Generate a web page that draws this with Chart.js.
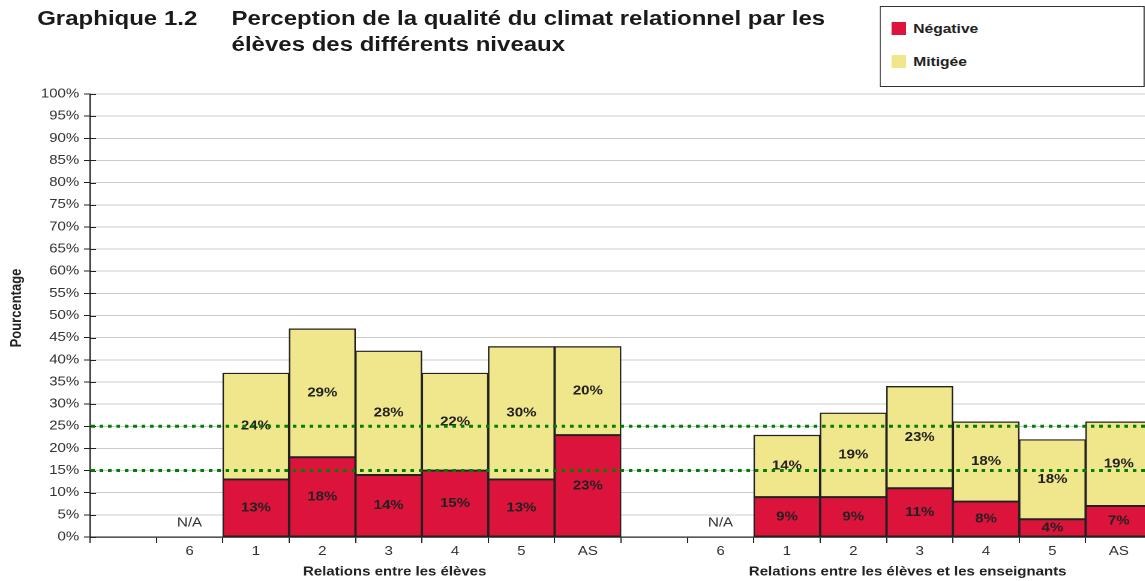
<!DOCTYPE html>
<html lang="fr">
<head>
<meta charset="utf-8">
<title>Graphique 1.2</title>
<script src="https://cdn.jsdelivr.net/npm/chart.js@4/dist/chart.umd.min.js"></script>
<style>
  html, body { margin: 0; padding: 0; background: #fff; overflow: hidden; }
  /* la source est étirée horizontalement : on dessine à 970px puis on étire */
  #page {
    position: relative; width: 970px; height: 581px;
    transform: scaleX(1.2); transform-origin: 0 0;
    font-family: "Liberation Sans", Arial, sans-serif; color: #222;
  }
  #page canvas { position: absolute; left: 0; top: 0; }
  .titre { position: absolute; top: 5px; font-weight: bold; font-size: 20px; line-height: 26px; white-space: nowrap; color: #1a1a1a; }
  #legende {
    position: absolute; left: 733px; top: 6px; width: 219px; height: 79px;
    border: 1px solid #333; background: #fff;
  }
  .item { position: absolute; left: 9px; height: 16px; font-weight: bold; font-size: 13px; line-height: 16px; }
  .item span.carre { position: absolute; left: 0; top: 1px; width: 12px; height: 13px; }
  .item span.texte { position: absolute; left: 18px; top: 0; white-space: nowrap; }
</style>
</head>
<body>
<div id="page">
  <canvas id="graphique"></canvas>
  <div class="titre" style="left:31px">Graphique 1.2</div>
  <div class="titre" style="left:193px">Perception de la qualité du climat relationnel par les<br>élèves des différents niveaux</div>
  <div id="legende"></div>
</div>
<script>
// Données
const categories = ['', '6', '1', '2', '3', '4', '5', 'AS', '', '6', '1', '2', '3', '4', '5', 'AS'];
const negative = [null, null, 13, 18, 14, 15, 13, 23, null, null, 9, 9, 11, 8, 4, 7];
const mitigee  = [null, null, 24, 29, 28, 22, 30, 20, null, null, 14, 19, 23, 18, 18, 19];
const nonDisponible = [false, true, false, false, false, false, false, false, false, true, false, false, false, false, false, false];
const seuils = [25, 15];
const yTicks = [0, 5, 10, 15, 20, 25, 30, 35, 40, 45, 50, 55, 60, 65, 70, 75, 80, 85, 90, 95, 100];
const groupes = ['Relations entre les élèves', 'Relations entre les élèves et les enseignants'];
const groupesDebut = [1, 9];
const groupesFin = [7, 15];

const couleurs = { negative: '#DC143C', mitigee: '#F0E68C' };
const police = '"Liberation Sans", Arial, sans-serif';

// Légende (HTML, encadrée en haut à droite)
const series = [
    { nom: 'Négative', couleur: couleurs.negative, top: 14 },
    { nom: 'Mitigée', couleur: couleurs.mitigee, top: 47 }
];
const legende = document.getElementById('legende');
series.forEach(s => {
    const el = document.createElement('div');
    el.className = 'item';
    el.style.top = s.top + 'px';
    el.innerHTML = '<span class="carre" style="background:' + s.couleur + '"></span><span class="texte">' + s.nom + '</span>';
    legende.appendChild(el);
});

// Étiquettes, lignes pointillées et titres d'axes
const annotations = {
    id: 'annotations',
    afterDatasetsDraw(chart) {
        const { ctx, chartArea, scales: { x, y } } = chart;
        ctx.save();

        // petites graduations à l'intérieur de l'axe Y
        ctx.strokeStyle = '#222';
        ctx.lineWidth = 1;
        yTicks.forEach(v => {
            const py = Math.round(y.getPixelForValue(v)) + 0.5;
            ctx.beginPath();
            ctx.moveTo(chartArea.left, py);
            ctx.lineTo(chartArea.left + 5, py);
            ctx.stroke();
        });

        // valeurs au centre de chaque segment
        ctx.font = 'bold 12.5px ' + police;
        ctx.fillStyle = '#222';
        ctx.textAlign = 'center';
        ctx.textBaseline = 'middle';
        chart.data.datasets.forEach((ds, i) => {
            chart.getDatasetMeta(i).data.forEach((bar, j) => {
                if (ds.data[j] == null) return;
                ctx.fillText(ds.data[j] + '%', bar.x, (bar.y + bar.base) / 2);
            });
        });

        // N/A
        ctx.font = '12.5px ' + police;
        ctx.fillStyle = '#333';
        nonDisponible.forEach((na, j) => {
            if (na) ctx.fillText('N/A', x.getPixelForValue(j), chartArea.bottom - 14);
        });

        // lignes de référence en pointillés verts
        ctx.strokeStyle = '#008000';
        ctx.lineWidth = 3;
        ctx.setLineDash([3, 4]);
        seuils.forEach(v => {
            const py = y.getPixelForValue(v);
            ctx.beginPath();
            ctx.moveTo(chartArea.left + 1, py);
            ctx.lineTo(chart.width, py);
            ctx.stroke();
        });
        ctx.restore();
    },
    afterDraw(chart) {
        const { ctx, chartArea, scales: { x } } = chart;
        ctx.save();
        ctx.fillStyle = '#222';
        ctx.textAlign = 'center';
        ctx.textBaseline = 'middle';
        ctx.font = 'bold 12.5px ' + police;
        const decalages = [5, -10];
        groupes.forEach((nom, g) => {
            const cx = (x.getPixelForValue(groupesDebut[g]) + x.getPixelForValue(groupesFin[g])) / 2 + decalages[g];
            ctx.fillText(nom, cx, 572);
        });
        // titre de l'axe Y
        ctx.font = 'bold 13px ' + police;
        ctx.translate(14, 308);
        ctx.rotate(-Math.PI / 2);
        ctx.fillText('Pourcentage', 0, 0);
        ctx.restore();
    }
};

function initGraphique() {
    const el = document.getElementById('graphique');
    el.width = 970;
    el.height = 581;
    new Chart(el, {
        type: 'bar',
        data: {
            labels: categories,
            datasets: [
                { label: 'Négative', data: negative, backgroundColor: couleurs.negative,
                  borderColor: '#222', borderWidth: 1.3, borderSkipped: false },
                { label: 'Mitigée', data: mitigee, backgroundColor: couleurs.mitigee,
                  borderColor: '#222', borderWidth: 1.3, borderSkipped: false }
            ]
        },
        options: {
            responsive: false,
            animation: false,
            devicePixelRatio: 2,
            layout: { padding: { top: 94, right: 10, bottom: 0, left: 0 } },
            datasets: { bar: { barPercentage: 1, categoryPercentage: 1 } },
            plugins: { legend: { display: false }, tooltip: { enabled: false } },
            scales: {
                x: {
                    stacked: true,
                    offset: true,
                    grid: { offset: true, drawOnChartArea: false, drawTicks: true, tickLength: 6,
                            tickColor: '#222', tickWidth: 1 },
                    border: { display: true, color: '#222', width: 1.2 },
                    ticks: { color: '#333', padding: 1, maxRotation: 0, autoSkip: false,
                             font: { family: police, size: 12.5 } },
                    afterFit: s => { s.height = 44; }
                },
                y: {
                    stacked: true,
                    min: 0,
                    max: 100,
                    grid: { color: '#cccccc', lineWidth: 1, tickColor: '#222', tickLength: 5 },
                    border: { display: true, color: '#222', width: 1.2 },
                    ticks: { stepSize: 5, color: '#333', padding: 4,
                             font: { family: police, size: 12.5 },
                             callback: v => v + '%' },
                    afterFit: s => { s.width = 75; }
                }
            }
        },
        plugins: [annotations]
    });
}

document.addEventListener('DOMContentLoaded', initGraphique);
</script>
</body>
</html>
